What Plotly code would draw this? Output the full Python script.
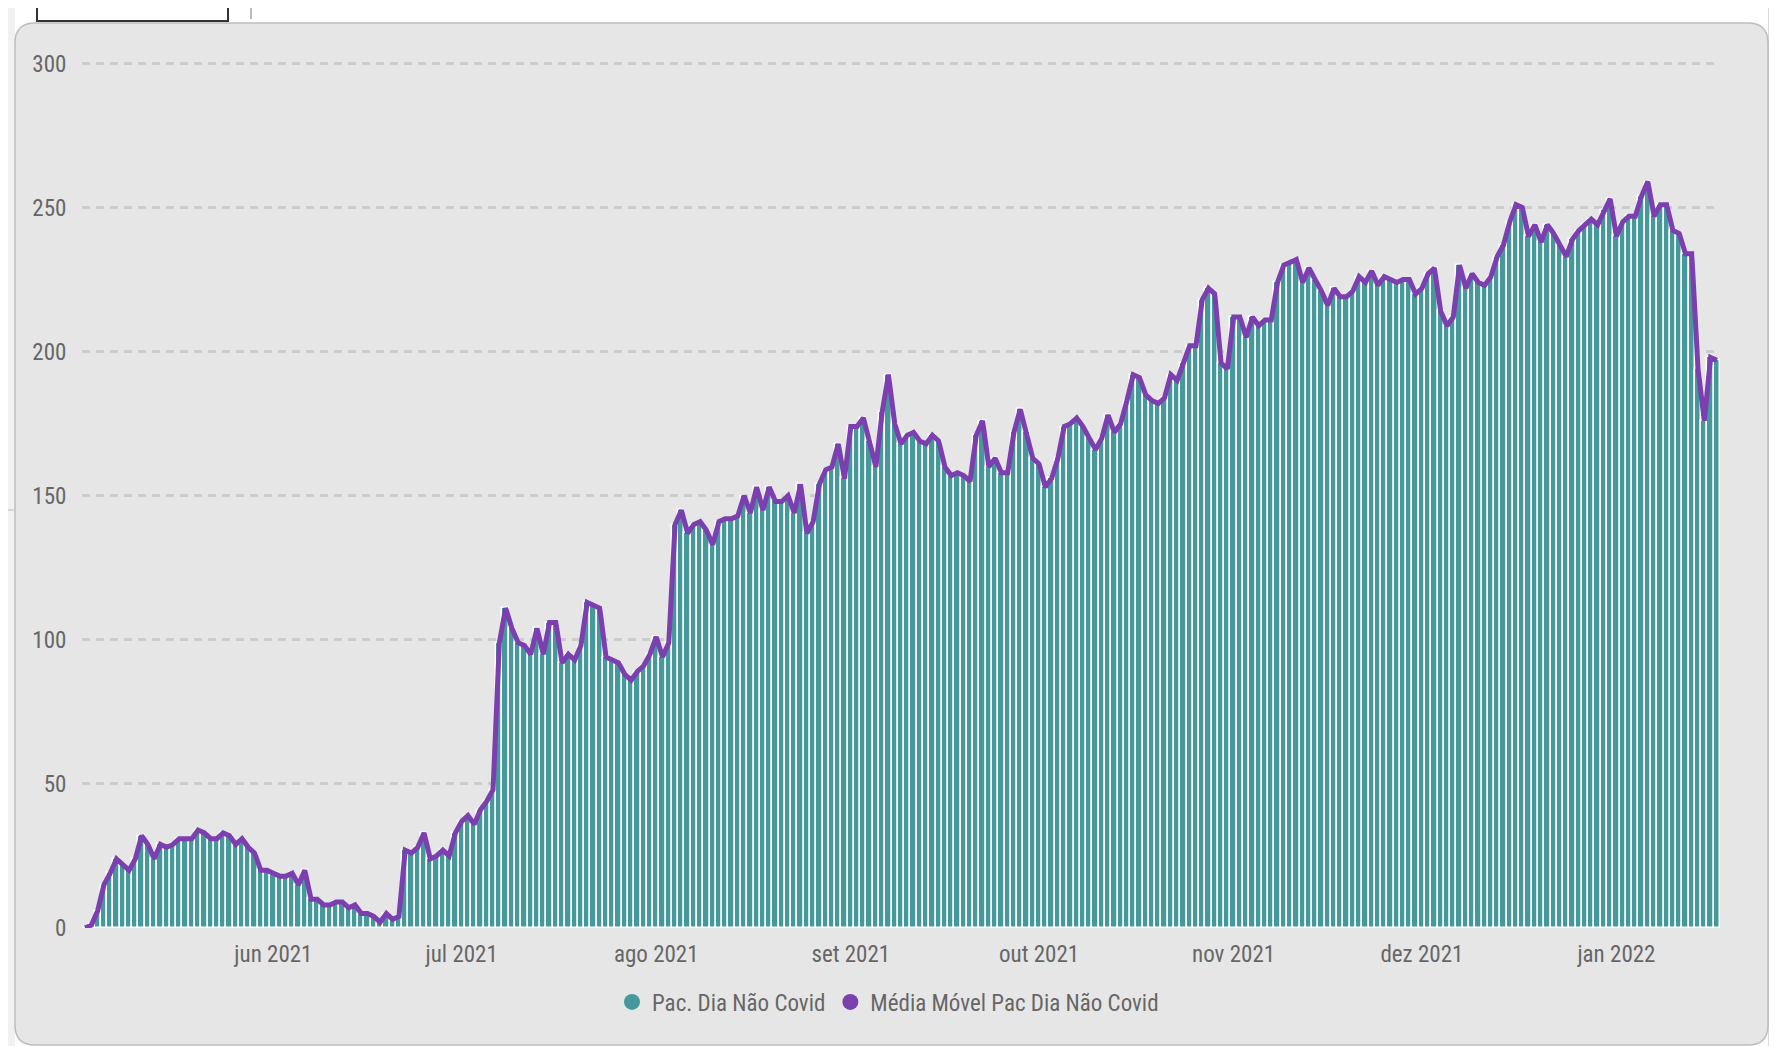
import pandas as pd
import plotly.graph_objects as go

# ---------------- data ----------------
start_date = "2021-05-02"

pac_dia_nao_covid = [
    0, 1, 6, 15, 19, 24, 22, 20, 24, 32,
    29, 24, 29, 28, 29, 31, 31, 31, 34, 33,
    31, 31, 33, 32, 29, 31, 28, 26, 20, 20,
    19, 18, 18, 19, 15, 20, 10, 10, 8, 8,
    9, 9, 7, 8, 5, 5, 4, 2, 5, 3,
    4, 27, 26, 28, 33, 24, 25, 27, 25, 33,
    37, 39, 36, 41, 44, 48, 99, 111, 104, 99,
    98, 95, 104, 95, 106, 106, 92, 95, 93, 98,
    113, 112, 111, 94, 93, 92, 88, 86, 89, 91,
    95, 101, 94, 99, 140, 145, 137, 140, 141, 138,
    133, 141, 142, 142, 143, 150, 144, 153, 145, 153,
    148, 148, 150, 144, 154, 137, 141, 154, 159, 160,
    168, 156, 174, 174, 177, 169, 160, 179, 192, 175,
    168, 171, 172, 169, 168, 171, 169, 160, 157, 158,
    157, 155, 171, 176, 160, 163, 158, 158, 172, 180,
    172, 163, 161, 153, 156, 163, 174, 175, 177, 174,
    170, 166, 170, 178, 172, 175, 183, 192, 191, 185,
    183, 182, 184, 192, 190, 196, 202, 202, 218, 222,
    220, 196, 194, 212, 212, 205, 212, 209, 211, 211,
    224, 230, 231, 232, 224, 229, 225, 221, 216, 222,
    219, 219, 221, 226, 224, 228, 223, 226, 225, 224,
    225, 225, 220, 222, 227, 229, 214, 209, 212, 230,
    222, 227, 224, 223, 226, 233, 237, 245, 251, 250,
    240, 244, 238, 244, 241, 237, 233, 239, 242, 244,
    246, 244, 249, 253, 240, 245, 247, 247, 254, 259,
    247, 251, 251, 242, 241, 234, 234, 194, 176, 198,
    197,
]

media_movel_pac_dia = [
    0, 1, 6, 15, 19, 24, 22, 20, 24, 32,
    29, 24, 29, 28, 29, 31, 31, 31, 34, 33,
    31, 31, 33, 32, 29, 31, 28, 26, 20, 20,
    19, 18, 18, 19, 15, 20, 10, 10, 8, 8,
    9, 9, 7, 8, 5, 5, 4, 2, 5, 3,
    4, 27, 26, 28, 33, 24, 25, 27, 25, 33,
    37, 39, 36, 41, 44, 48, 99, 111, 104, 99,
    98, 95, 104, 95, 106, 106, 92, 95, 93, 98,
    113, 112, 111, 94, 93, 92, 88, 86, 89, 91,
    95, 101, 94, 99, 140, 145, 137, 140, 141, 138,
    133, 141, 142, 142, 143, 150, 144, 153, 145, 153,
    148, 148, 150, 144, 154, 137, 141, 154, 159, 160,
    168, 156, 174, 174, 177, 169, 160, 179, 192, 175,
    168, 171, 172, 169, 168, 171, 169, 160, 157, 158,
    157, 155, 171, 176, 160, 163, 158, 158, 172, 180,
    172, 163, 161, 153, 156, 163, 174, 175, 177, 174,
    170, 166, 170, 178, 172, 175, 183, 192, 191, 185,
    183, 182, 184, 192, 190, 196, 202, 202, 218, 222,
    220, 196, 194, 212, 212, 205, 212, 209, 211, 211,
    224, 230, 231, 232, 224, 229, 225, 221, 216, 222,
    219, 219, 221, 226, 224, 228, 223, 226, 225, 224,
    225, 225, 220, 222, 227, 229, 214, 209, 212, 230,
    222, 227, 224, 223, 226, 233, 237, 245, 251, 250,
    240, 244, 238, 244, 241, 237, 233, 239, 242, 244,
    246, 244, 249, 253, 240, 245, 247, 247, 254, 259,
    247, 251, 251, 242, 241, 234, 234, 194, 176, 198,
    197,
]

month_ticks = ["2021-06-01", "2021-07-01", "2021-08-01", "2021-09-01",
               "2021-10-01", "2021-11-01", "2021-12-01", "2022-01-01"]
month_labels = ["jun 2021", "jul 2021", "ago 2021", "set 2021",
                "out 2021", "nov 2021", "dez 2021", "jan 2022"]
y_ticks = [0, 50, 100, 150, 200, 250, 300]

series_names = ["Pac. Dia Não Covid", "Média Móvel Pac Dia Não Covid"]

dates = pd.date_range(start_date, periods=len(pac_dia_nao_covid), freq="D")

# ---------------- styling ----------------
TEAL = "#45999a"
PURPLE = "#7b3fb0"
TXT = "#666666"
FONT = "Liberation Sans Narrow, Arial Narrow, Roboto Condensed, DejaVu Sans Condensed, sans-serif"

# the html body has an 8px default margin; the figure is sized to fill the window
OFF = 8
W, H = 1777 - OFF, 1046 - OFF
ML, MR, MT, MB = 82 - OFF, 57, 62 - OFF, 118
PW, PH = W - ML - MR, H - MT - MB


def px(x):  # page pixel -> paper coordinate
    return (x - OFF - ML) / PW


def py(y):
    return (H - MB - (y - OFF)) / PH


fig = go.Figure()

fig.add_trace(go.Bar(
    x=dates, y=pac_dia_nao_covid, name=series_names[0],
    marker=dict(color=TEAL, line=dict(color="white", width=1.5)),
    width=86400000, showlegend=False,
))
fig.add_trace(go.Scatter(
    x=dates, y=media_movel_pac_dia, name=series_names[1], mode="lines",
    line=dict(color=PURPLE, width=5), showlegend=False,
))
# legend entries with circular markers
fig.add_trace(go.Scatter(x=[None], y=[None], mode="markers", name=series_names[0],
                         marker=dict(color=TEAL, size=16, symbol="circle")))
fig.add_trace(go.Scatter(x=[None], y=[None], mode="markers", name=series_names[1],
                         marker=dict(color=PURPLE, size=16, symbol="circle")))

# rounded panel
x0, x1, y0, y1, r = 15, 1768, 23, 1045, 20
path = (f"M {px(x0 + r)},{py(y0)} L {px(x1 - r)},{py(y0)} "
        f"Q {px(x1)},{py(y0)} {px(x1)},{py(y0 + r)} "
        f"L {px(x1)},{py(y1 - r)} Q {px(x1)},{py(y1)} {px(x1 - r)},{py(y1)} "
        f"L {px(x0 + r)},{py(y1)} Q {px(x0)},{py(y1)} {px(x0)},{py(y1 - r)} "
        f"L {px(x0)},{py(y0 + r)} Q {px(x0)},{py(y0)} {px(x0 + r)},{py(y0)} Z")

shapes = [
    dict(type="rect", xref="paper", yref="paper", x0=px(8), x1=px(15), y0=py(1046), y1=py(8),
         fillcolor="#f1f1f1", line=dict(width=0), layer="below"),
    dict(type="path", xref="paper", yref="paper", path=path,
         fillcolor="#e6e6e6", line=dict(color="#bdbdbd", width=1.5), layer="below"),
    dict(type="line", xref="paper", yref="paper", x0=px(1769.5), x1=px(1769.5), y0=py(8), y1=py(1046),
         line=dict(color="#b5b5b5", width=2), layer="below"),
    dict(type="rect", xref="paper", yref="paper", x0=px(37), x1=px(228), y0=py(21), y1=py(-5),
         fillcolor="white", line=dict(color="#333333", width=2), layer="below"),
    dict(type="line", xref="paper", yref="paper", x0=px(251), x1=px(251), y0=py(8), y1=py(19),
         line=dict(color="#bbbbbb", width=2), layer="below"),
    dict(type="line", xref="paper", yref="paper", x0=px(8), x1=px(14), y0=py(510), y1=py(510),
         line=dict(color="#cccccc", width=1.5), layer="below"),
]

half_day = pd.Timedelta(hours=12)
fig.update_layout(
    width=W, height=H,
    margin=dict(l=ML, r=MR, t=MT, b=MB, pad=0),
    paper_bgcolor="white",
    plot_bgcolor="rgba(0,0,0,0)",
    font=dict(family=FONT, size=23, color=TXT),
    bargap=0,
    shapes=shapes,
    showlegend=True,
    legend=dict(orientation="h", x=px(888), xanchor="center", y=py(1002), yanchor="middle",
                bgcolor="rgba(0,0,0,0)", font=dict(family=FONT, size=23, color=TXT),
                itemwidth=30, traceorder="normal"),
    xaxis=dict(
        type="date",
        range=[dates[0] - half_day, dates[-1] + half_day],
        tickvals=month_ticks, ticktext=month_labels,
        showgrid=False, zeroline=False, showline=False,
        ticks="outside", ticklen=5, tickcolor="rgba(0,0,0,0)",
        tickfont=dict(family=FONT, size=23, color=TXT),
    ),
    yaxis=dict(
        range=[0, 300.5],
        tickvals=y_ticks,
        showgrid=True, gridcolor="#cccccc", gridwidth=2.5, griddash="8px,6px",
        zeroline=False, showline=False,
        ticks="outside", ticklen=10, tickcolor="rgba(0,0,0,0)",
        tickfont=dict(family=FONT, size=23, color=TXT),
    ),
)

fig.write_html("out.html")
